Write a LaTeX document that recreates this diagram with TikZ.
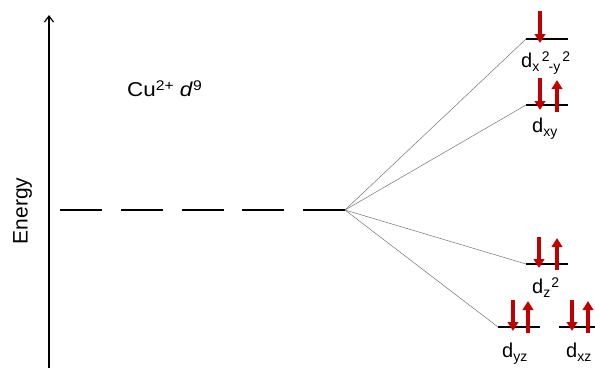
\documentclass[tikz,border=0pt]{standalone}
\usepackage{fontspec}
\setmainfont{Liberation Sans}
\usetikzlibrary{arrows.meta}
\definecolor{spinred}{RGB}{192,0,0}
\newcommand\myup[1]{\raisebox{6pt}{\fontsize{14}{14}\selectfont #1}}
\newcommand\mydn[1]{\raisebox{-4pt}{\fontsize{14}{14}\selectfont #1}}
\tikzset{
  level/.style={line width=2.8pt, black},
  corr/.style={line width=0.5pt, black!55},
  spin/.style={line width=3.4pt, spinred, -{Triangle[length=9pt,width=10.5pt]}},
  lbl/.style={anchor=base west, inner sep=0pt, font=\fontsize{20}{20}\selectfont},
}
\begin{document}
\begin{tikzpicture}[x=1pt,y=-1pt]
\useasboundingbox (0,0) rectangle (595,368);
% axis
\coordinate (ax0) at (49,368);
\coordinate (ax1) at (49,15);
\draw[line width=1.4pt, -{Straight Barb[length=6pt,width=9pt,line width=1.2pt]}] (ax0) -- (ax1);
\node[rotate=90, anchor=base, font=\fontsize{21}{21}\selectfont, inner sep=0pt] (energy) at (27.5,211) {Energy};
\node[lbl, xscale=1.12] (cu) at (127,96) {Cu\myup{2+} \textit{d}\myup{9}};
% free-ion level
\coordinate (f0) at (60,210);
\coordinate (f1) at (345,210);
\draw[line width=2.8pt, dash pattern=on 42pt off 18.8pt] (f0) -- (f1);
% split levels
\coordinate (a0) at (526,39);  \coordinate (a1) at (568,39);
\coordinate (b0) at (526,105); \coordinate (b1) at (568,105);
\coordinate (c0) at (526,264); \coordinate (c1) at (568,264);
\coordinate (d0) at (498,327); \coordinate (d1) at (540,327);
\coordinate (e0) at (559,327); \coordinate (e1) at (596,327);
\draw[level] (a0) -- (a1);
\draw[level] (b0) -- (b1);
\draw[level] (c0) -- (c1);
\draw[level] (d0) -- (d1);
\draw[level] (e0) -- (e1);
% correlation lines
\draw[corr] (f1) -- (a0);
\draw[corr] (f1) -- (b0);
\draw[corr] (f1) -- (c0);
\draw[corr] (f1) -- (d0);
% electrons
\coordinate (s1a) at (540,11);  \coordinate (s1b) at (540,43);
\coordinate (s2a) at (540,78);  \coordinate (s2b) at (540,110);
\coordinate (s3a) at (557,112); \coordinate (s3b) at (557,80);
\coordinate (s4a) at (539,237); \coordinate (s4b) at (539,268);
\coordinate (s5a) at (557,270); \coordinate (s5b) at (557,238);
\coordinate (s6a) at (513,300); \coordinate (s6b) at (513,331);
\coordinate (s7a) at (528,333); \coordinate (s7b) at (528,301);
\coordinate (s8a) at (572,300); \coordinate (s8b) at (572,331);
\coordinate (s9a) at (588,333); \coordinate (s9b) at (588,301);
\foreach \i in {1,...,9} \draw[spin] (s\i a) -- (s\i b);
% labels
\node[lbl] (la) at (521,67) {d\mydn{x}\hspace{2.5pt}\myup{2}\hspace{-1pt}\mydn{-y}\hspace{2pt}\myup{2}};
\node[lbl] (lb) at (532,132) {d\mydn{xy}};
\node[lbl] (lc) at (532,293) {d\mydn{z}\hspace{1pt}\myup{2}};
\node[lbl] (ld) at (502,357) {d\mydn{yz}};
\node[lbl] (le) at (566,357) {d\mydn{xz}};
\end{tikzpicture}
\end{document}
